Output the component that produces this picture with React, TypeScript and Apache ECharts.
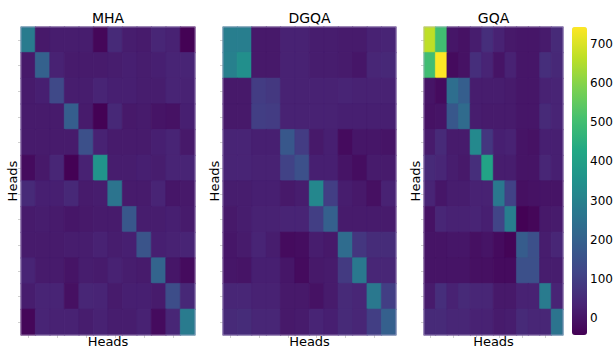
import React, { useEffect, useRef } from "react";
import * as echarts from "echarts";

const heads: string[] = ["0", "1", "2", "3", "4", "5", "6", "7", "8", "9", "10", "11"];
const panelTitles: string[] = ["MHA", "DGQA", "GQA"];
const colorbarTicks: number[] = [0, 100, 200, 300, 400, 500, 600, 700];
const colorMin = -43;
const colorMax = 743;
const viridis: string[] = ["#440154", "#482475", "#414487", "#355f8d", "#2a788e", "#21918c", "#22a884", "#44bf70", "#7ad151", "#bddf26", "#fde725"];

const mhaValues: number[][] = [
  [280, 10, 20, 20, 20, -30, 50, 20, 15, 40, 30, -40],
  [10, 200, 30, 15, 15, 15, 20, 25, 20, 25, 35, 35],
  [15, 25, 130, 20, 20, 35, 25, 25, 20, 20, 35, 30],
  [15, 15, 15, 190, 15, -40, 45, 10, 15, 0, -5, 25],
  [15, 15, 15, 15, 150, 30, 15, 15, 15, 25, 35, 10],
  [-20, 10, 40, -40, 30, 360, 20, 20, 25, 20, 35, 35],
  [50, 25, 25, 45, 15, 20, 260, 15, 15, 35, 5, 10],
  [15, 20, 15, 5, 10, 15, 15, 170, 20, 20, 25, 15],
  [15, 15, 15, 20, 20, 30, 20, 25, 160, 25, 30, 35],
  [35, 15, 15, 0, 20, 15, 30, 20, 15, 210, 5, -20],
  [20, 35, 35, -10, 40, 35, 15, 25, 25, 15, 140, 45],
  [-30, 35, 30, 30, 20, 30, 20, 20, 30, -20, 40, 280],
];

const dgqaValues: number[][] = [
  [290, 290, 10, 10, 30, 30, 20, 20, 15, 15, 30, 35],
  [295, 345, 10, 10, 30, 30, 20, 20, 15, 5, 40, 45],
  [10, 10, 95, 85, 30, 30, 30, 30, 35, 30, 30, 30],
  [10, 10, 100, 95, 30, 30, 30, 30, 25, 25, 25, 25],
  [35, 35, 25, 25, 170, 95, 10, 25, -20, 5, 5, 0],
  [35, 35, 30, 30, 110, 150, 25, 25, 0, -15, 15, 15],
  [20, 20, 25, 25, 10, 20, 320, 100, 20, 10, -10, 30],
  [10, 20, 30, 30, 35, 35, 100, 195, 15, 15, 15, 15],
  [5, 15, 35, 20, -20, -15, 20, 10, 235, 80, 55, 55],
  [5, 0, 25, 25, 5, -20, 10, 15, 90, 270, 40, 40],
  [40, 40, 30, 30, 10, 10, -5, 15, 50, 40, 270, 100],
  [50, 55, 40, 40, 10, 15, 35, 25, 50, 40, 100, 195],
];

const gqaValues: number[][] = [
  [666, 500, 5, -5, 20, 60, 30, 10, 5, 5, 15, 50],
  [500, 743, -20, -5, 60, 35, 0, 30, 5, 5, 60, 45],
  [0, -20, 240, 190, 20, 20, 20, 15, 5, 5, 30, 35],
  [-5, 0, 170, 230, 20, 15, 15, 15, 5, 5, 50, 35],
  [15, 50, 15, 15, 325, 80, 25, 30, 0, -5, 25, 25],
  [50, 40, 20, 10, 60, 410, 20, 20, 0, 0, 40, 25],
  [35, 5, 20, 20, 30, 30, 270, 110, -10, -5, 0, 0],
  [-5, 40, 30, 30, 35, 25, 115, 290, -40, -30, 10, 15],
  [0, 0, 5, 5, -10, 0, -20, -35, 185, 150, 20, 40],
  [0, 0, 0, 0, -10, -10, -20, -20, 150, 150, 20, 20],
  [15, 60, 30, 50, 40, 40, 10, 10, 30, 30, 280, 35],
  [50, 50, 40, 40, 30, 30, 15, 20, 50, 40, 40, 260],
];

const panels = [mhaValues, dgqaValues, gqaValues];

const FONT = "DejaVu Sans";

export default function App() {
  const ref = useRef<HTMLDivElement>(null);
  useEffect(() => {
    if (!ref.current) return;
    const chart = echarts.init(ref.current, null, { renderer: "svg" });
    const grids = [
      { left: 21, top: 27, width: 174, height: 308 },
      { left: 223, top: 27, width: 173, height: 308 },
      { left: 424, top: 27, width: 139, height: 308 },
      { left: 572, top: 27, width: 15, height: 308 },
    ];
    const xAxes: any[] = [];
    const yAxes: any[] = [];
    const series: any[] = [];
    const titles: any[] = [];
    panels.forEach((vals, p) => {
      const g = grids[p];
      titles.push({
        text: panelTitles[p],
        left: g.left + g.width / 2,
        top: 11,
        textAlign: "center",
        padding: 0,
        textStyle: { fontFamily: FONT, fontSize: 14, fontWeight: "normal", color: "#000" },
      });
      xAxes.push({
        type: "category",
        gridIndex: p,
        data: heads,
        position: "bottom",
        name: "Heads",
        nameLocation: "middle",
        nameGap: 0,
        nameTextStyle: { fontFamily: FONT, fontSize: 13, lineHeight: 13, color: "#000", verticalAlign: "top" },
        axisLine: { show: false },
        axisTick: { show: true, alignWithLabel: true, length: 3, interval: (i: number) => i % 2 === 0, lineStyle: { color: "#d0d0d0" } },
        axisLabel: { show: false },
        splitLine: { show: false },
      });
      yAxes.push({
        type: "category",
        gridIndex: p,
        data: heads,
        inverse: true,
        name: "Heads",
        nameLocation: "middle",
        nameGap: 2,
        nameRotate: 90,
        nameTextStyle: { fontFamily: FONT, fontSize: 13, color: "#000", verticalAlign: "bottom" },
        axisLine: { show: false },
        axisTick: { show: true, alignWithLabel: true, length: 3, interval: 0, lineStyle: { color: "#d0d0d0" } },
        axisLabel: { show: false },
        splitLine: { show: false },
      });
      const data: any[] = [];
      vals.forEach((row, r) =>
        row.forEach((v, c) => {
          const t = Math.max(0, Math.min(1, (v - colorMin) / (colorMax - colorMin)));
          const col = echarts.color.lerp(t, viridis);
          data.push({ value: [c, r, v], itemStyle: { borderColor: col, borderWidth: 0.6 } });
        })
      );
      series.push({
        type: "heatmap",
        xAxisIndex: p,
        yAxisIndex: p,
        data,
        emphasis: { disabled: true },
      });
    });
    // colorbar axis
    xAxes.push({ type: "category", gridIndex: 3, data: [""], show: false });
    yAxes.push({
      type: "value",
      gridIndex: 3,
      min: colorMin,
      max: colorMax,
      position: "right",
      axisLine: { show: false },
      axisTick: { show: false },
      splitLine: { show: false },
      axisLabel: {
        customValues: colorbarTicks,
        margin: 3,
        fontFamily: FONT,
        fontSize: 12,
        color: "#000",
      },
    });
    chart.setOption({
      animation: false,
      backgroundColor: "#fff",
      title: titles,
      grid: grids.map((g, i) => ({
        ...g,
        show: i < 3,
        z: 5,
        backgroundColor: "transparent",
        borderColor: "rgba(190,178,215,0.7)",
        borderWidth: 0.8,
        containLabel: false,
        outerBoundsMode: "none",
      })),
      xAxis: xAxes,
      yAxis: yAxes,
      visualMap: {
        type: "continuous",
        show: true,
        min: colorMin,
        max: colorMax,
        seriesIndex: [0, 1, 2],
        calculable: false,
        hoverLink: false,
        left: 572,
        top: 27,
        padding: 0,
        itemWidth: 15,
        itemHeight: 308,
        orient: "vertical",
        inRange: { color: viridis },
      },
      series,
    });
    return () => chart.dispose();
  }, []);
  return <div ref={ref} style={{ width: 615, height: 348, position: "absolute", left: 0, top: 0 }} />;
}
